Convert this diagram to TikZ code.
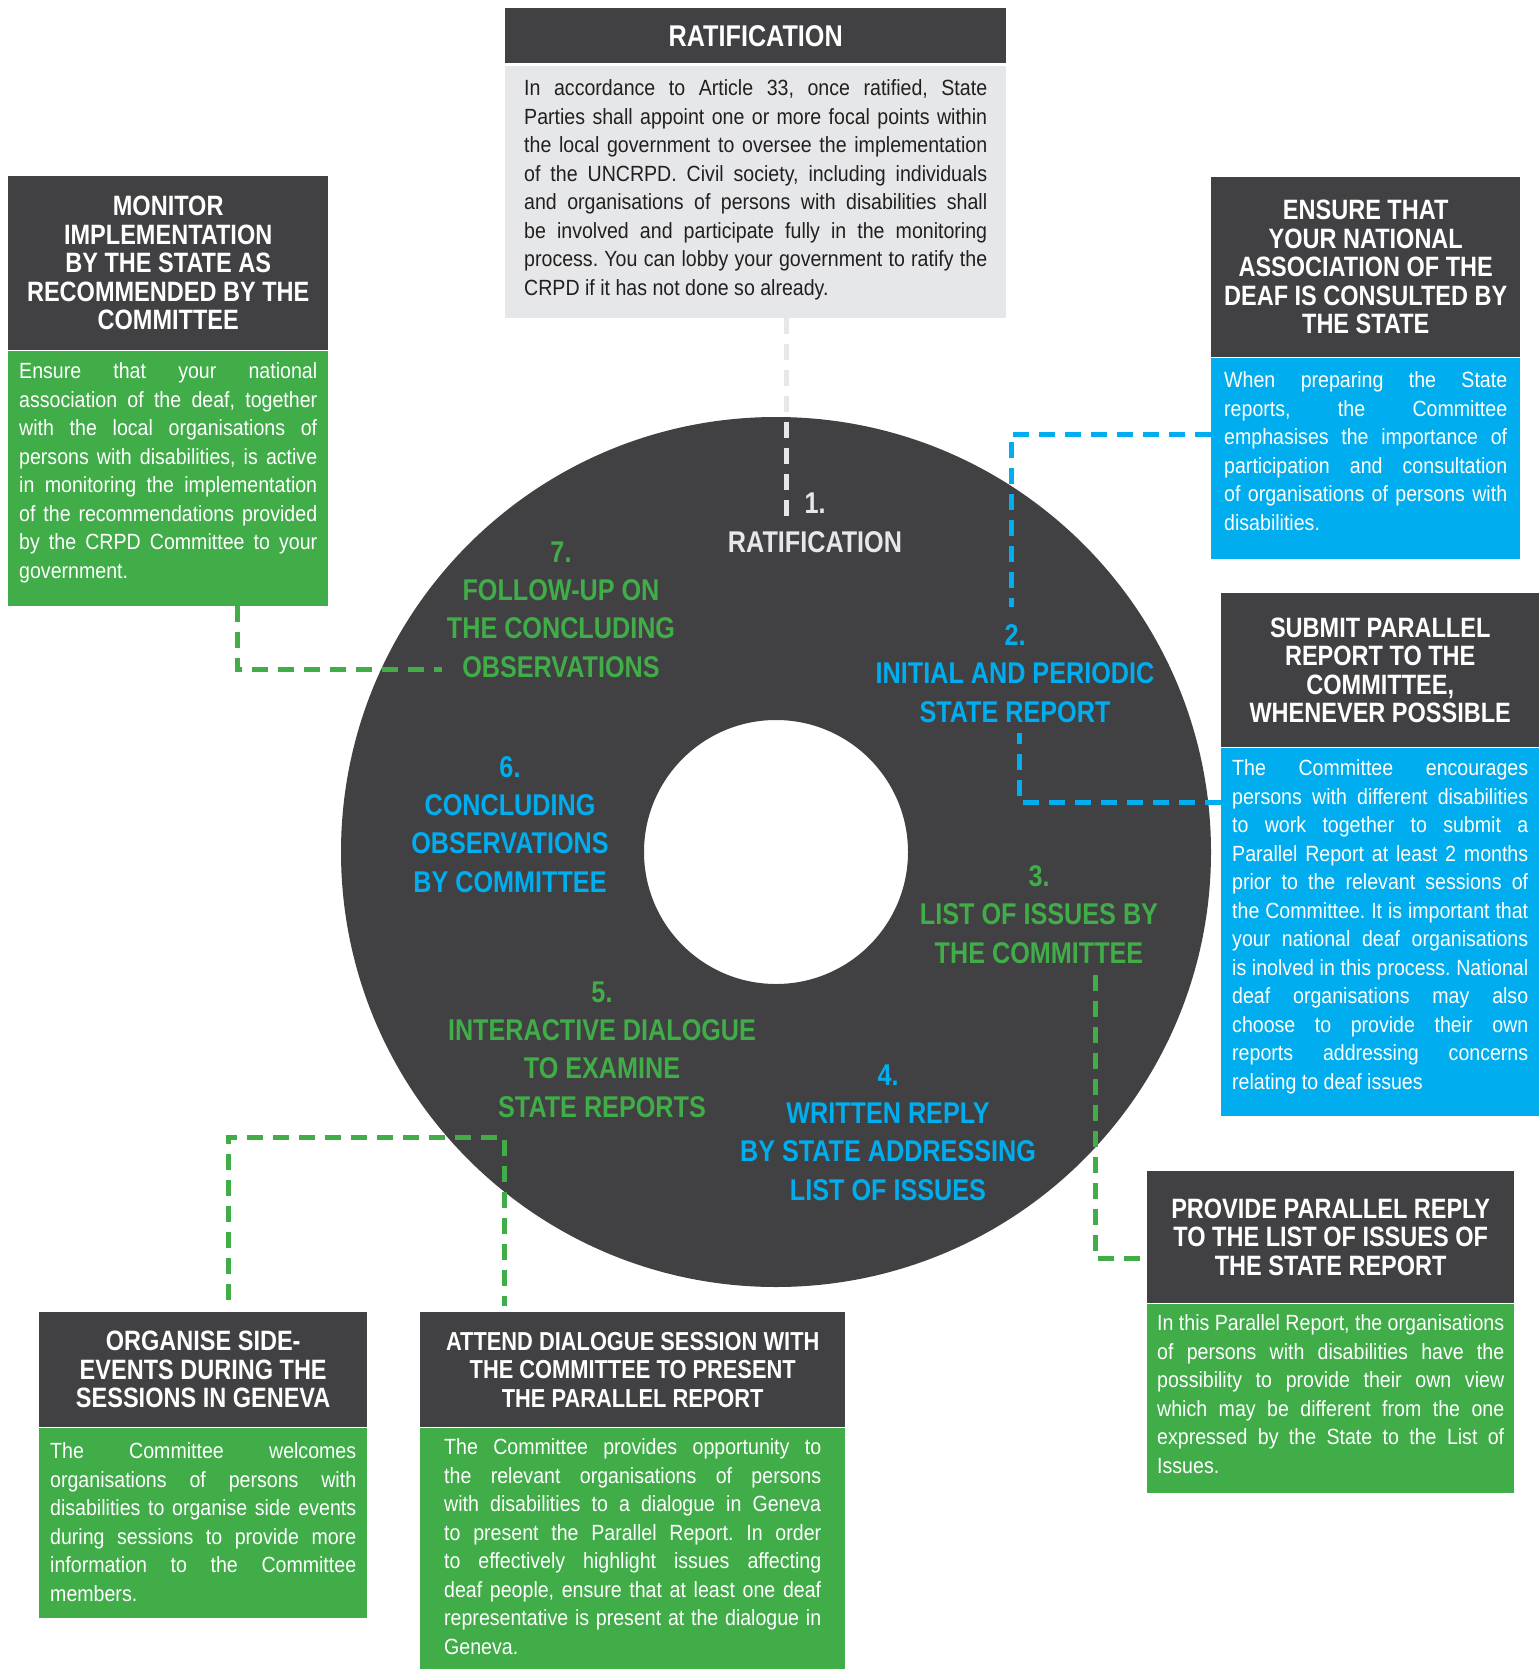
\documentclass[tikz,border=0pt]{standalone}
\usepackage{fontspec}
\newfontfamily\headfont{Liberation Sans}[FakeStretch=0.84]
\newfontfamily\bodyfont{Liberation Sans}[FakeStretch=0.89]
\usetikzlibrary{positioning}
\frenchspacing

\definecolor{darkgrey}{HTML}{414042}
\definecolor{crpdgreen}{HTML}{40AD49}
\definecolor{crpdblue}{HTML}{00AEEF}
\definecolor{lightgrey}{HTML}{E6E7E8}
\definecolor{txtblack}{HTML}{231F20}

% one justified line, and a last line
\newcommand\jline[1]{\hbox to\hsize{#1}}
\newcommand\eline[1]{\hbox{#1}}

\begin{document}
\begin{tikzpicture}[
    x=1pt, y=-1pt,
    hdr/.style={fill=darkgrey, text=white, inner sep=0pt, align=center, anchor=north west,
        font=\headfont\bfseries\fontsize{28}{28.5}\selectfont},
    body/.style={inner ysep=0pt, text=white, align=justify, font=\bodyfont\fontsize{22}{28.5}\selectfont},
    lbl/.style={align=center, inner sep=0pt, anchor=base,
        font=\headfont\bfseries\fontsize{30}{38.3}\selectfont},
    conn/.style={line width=5pt, dash pattern=on 16pt off 10pt},
]
\path[use as bounding box, fill=white] (0,0) rectangle (1539,1669);

% the cycle
\fill[darkgrey, even odd rule] (776,852) circle[radius=435pt] (776,852) circle[radius=132pt];

% top
\node[hdr, minimum width=501pt, minimum height=55pt,
    font=\headfont\bfseries\fontsize{30}{30}\selectfont] (rathdr) at (505,8) {RATIFICATION};
\node[body, fill=lightgrey, text=txtblack, below=2pt of rathdr, text width=463pt, inner xsep=19pt,
    text height=30pt, text depth=222pt] (ratbody) {
    \jline{In accordance to Article 33, once ratified, State}
    \jline{Parties shall appoint one or more focal points within}
    \jline{the local government to oversee the implementation}
    \jline{of the UNCRPD. Civil society, including individuals}
    \jline{and organisations of persons with disabilities shall}
    \jline{be involved and participate fully in the monitoring}
    \jline{process. You can lobby your government to ratify the}
    \eline{CRPD if it has not done so already.}};

% left
\node[hdr, minimum width=320pt, minimum height=174pt] (monhdr) at (8,176)
    {MONITOR\\IMPLEMENTATION\\BY THE STATE AS\\RECOMMENDED BY THE\\COMMITTEE};
\node[body, fill=crpdgreen, below=0pt of monhdr, text width=298pt, inner xsep=11pt,
    text height=28pt, text depth=227pt] (monbody) {
    \jline{Ensure that your national}
    \jline{association of the deaf, together}
    \jline{with the local organisations of}
    \jline{persons with disabilities, is active}
    \jline{in monitoring the implementation}
    \jline{of the recommendations provided}
    \jline{by the CRPD Committee to your}
    \eline{government.}};

% right
\node[hdr, minimum width=309pt, minimum height=180pt] (enshdr) at (1211,177)
    {ENSURE THAT\\YOUR NATIONAL\\ASSOCIATION OF THE\\DEAF IS CONSULTED BY\\THE STATE};
\node[body, fill=crpdblue, below=0pt of enshdr, text width=283pt, inner xsep=13pt,
    text height=30pt, text depth=171pt] (ensbody) {
    \jline{When preparing the State}
    \jline{reports, the Committee}
    \jline{emphasises the importance of}
    \jline{participation and consultation}
    \jline{of organisations of persons with}
    \eline{disabilities.}};

\node[hdr, minimum width=318pt, minimum height=154pt] (subhdr) at (1221,593)
    {SUBMIT PARALLEL\\REPORT TO THE\\COMMITTEE,\\WHENEVER POSSIBLE};
\node[body, fill=crpdblue, below=0pt of subhdr, text width=296pt, inner xsep=11pt,
    text height=28pt, text depth=340pt] (subbody) {
    \jline{The Committee encourages}
    \jline{persons with different disabilities}
    \jline{to work together to submit a}
    \jline{Parallel Report at least 2 months}
    \jline{prior to the relevant sessions of}
    \jline{the Committee. It is important that}
    \jline{your national deaf organisations}
    \jline{is inolved in this process. National}
    \jline{deaf organisations may also}
    \jline{choose to provide their own}
    \jline{reports addressing concerns}
    \eline{relating to deaf issues}};

\node[hdr, minimum width=367pt, minimum height=132pt] (prohdr) at (1147,1171)
    {PROVIDE PARALLEL REPLY\\TO THE LIST OF ISSUES OF\\THE STATE REPORT};
\node[body, fill=crpdgreen, below=0pt of prohdr, text width=347pt, inner xsep=10pt,
    text height=27pt, text depth=162pt] (probody) {
    \jline{In this Parallel Report, the organisations}
    \jline{of persons with disabilities have the}
    \jline{possibility to provide their own view}
    \jline{which may be different from the one}
    \jline{expressed by the State to the List of}
    \eline{Issues.}};

% bottom
\node[hdr, minimum width=328pt, minimum height=115pt] (orghdr) at (39,1312)
    {ORGANISE SIDE-\\EVENTS DURING THE\\SESSIONS IN GENEVA};
\node[body, fill=crpdgreen, below=0pt of orghdr, text width=306pt, inner xsep=11pt,
    text height=31pt, text depth=159pt] (orgbody) {
    \jline{The Committee welcomes}
    \jline{organisations of persons with}
    \jline{disabilities to organise side events}
    \jline{during sessions to provide more}
    \jline{information to the Committee}
    \eline{members.}};

\node[hdr, minimum width=425pt, minimum height=115pt,
    font=\headfont\bfseries\fontsize{26}{28.5}\selectfont] (atthdr) at (420,1312)
    {ATTEND DIALOGUE SESSION WITH\\THE COMMITTEE TO PRESENT\\THE PARALLEL REPORT};
\node[body, fill=crpdgreen, below=0pt of atthdr, text width=377pt, inner xsep=24pt,
    text height=27pt, text depth=215pt] (attbody) {
    \jline{The Committee provides opportunity to}
    \jline{the relevant organisations of persons}
    \jline{with disabilities to a dialogue in Geneva}
    \jline{to present the Parallel Report. In order}
    \jline{to effectively highlight issues affecting}
    \jline{deaf people, ensure that at least one deaf}
    \jline{representative is present at the dialogue in}
    \eline{Geneva.}};

% steps on the ring (placed at the baseline of the last line)
\node[lbl, text=lightgrey] (step1) at (815,552) {1.\\RATIFICATION};
\node[lbl, text=crpdblue] (step2) at (1015,722) {2.\\INITIAL AND PERIODIC\\STATE REPORT};
\node[lbl, text=crpdgreen] (step3) at (1039,963) {3.\\LIST OF ISSUES BY\\THE COMMITTEE};
\node[lbl, text=crpdblue] (step4) at (888,1200) {4.\\WRITTEN REPLY\\BY STATE ADDRESSING\\LIST OF ISSUES};
\node[lbl, text=crpdgreen] (step5) at (602,1117) {5.\\INTERACTIVE DIALOGUE\\TO EXAMINE\\STATE REPORTS};
\node[lbl, text=crpdblue] (step6) at (510,892) {6.\\CONCLUDING\\OBSERVATIONS\\BY COMMITTEE};
\node[lbl, text=crpdgreen] (step7) at (561,677) {7.\\FOLLOW-UP ON\\THE CONCLUDING\\OBSERVATIONS};

% dashed links
\coordinate (r1) at (786,517);
\draw[conn, lightgrey] (ratbody.south -| r1) -- (r1);
\coordinate (b2a) at (1011,434);
\coordinate (b2top) at (1011,607);
\draw[conn, crpdblue] (ensbody.west |- b2a) -- (b2a) -- (b2top);
\coordinate (b2b) at (1019,802);
\coordinate (b2bot) at (1019,733);
\draw[conn, crpdblue] (subbody.west |- b2b) -- (b2b) -- (b2bot);
\coordinate (g7) at (237,669);
\coordinate (g7end) at (442,669);
\draw[conn, crpdgreen] (monbody.south -| g7) -- (g7) -- (g7end);
\coordinate (g3top) at (1095,975);
\coordinate (g3) at (1095,1258);
\draw[conn, crpdgreen] (g3top) -- (g3) -- (prohdr.west |- g3);
\coordinate (g5a) at (228,1137);
\coordinate (g5b) at (504,1137);
\draw[conn, crpdgreen, shorten <=12pt, shorten >=6pt]
    (orghdr.north -| g5a) -- (g5a) -- (g5b) -- (atthdr.north -| g5b);
\end{tikzpicture}
\end{document}
